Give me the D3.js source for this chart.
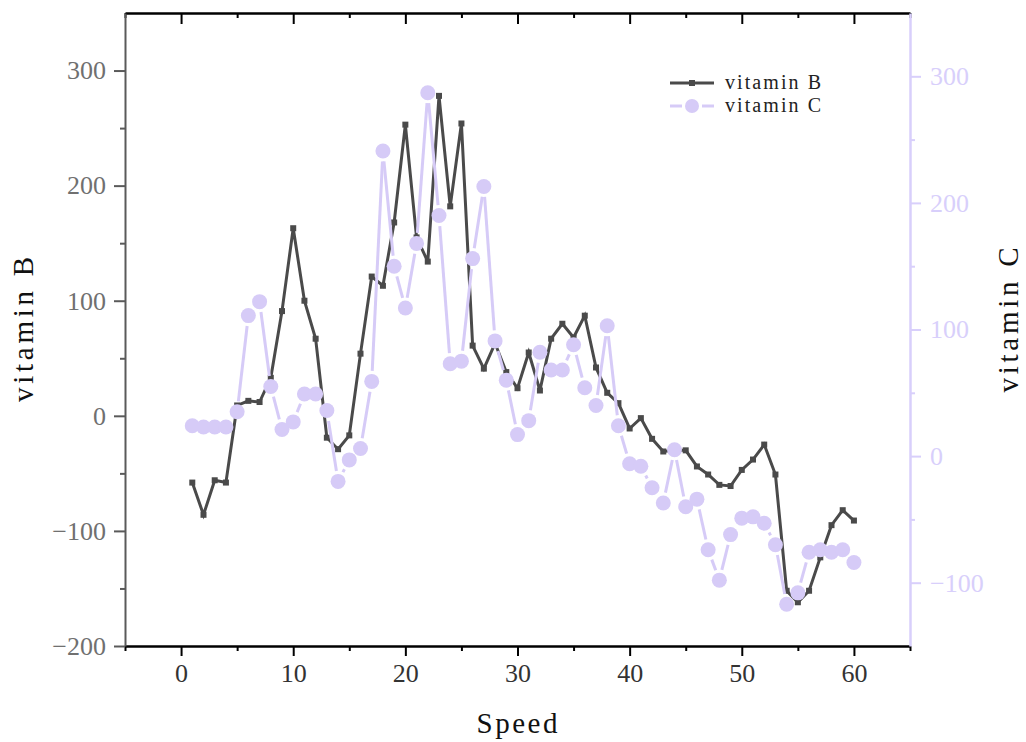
<!DOCTYPE html>
<html>
<head>
<meta charset="utf-8">
<script src="https://cdn.jsdelivr.net/npm/d3@7"></script>
<style>
  body { margin: 0; background: #fff; }
  svg { display: block; }
</style>
</head>
<body>
<div id="chart"></div>
<script>
// data
const speed = d3.range(1, 61);
const vitaminB = [
  -58, -86, -56, -58, 9, 13, 12, 33, 91, 163,
  100, 67, -19, -29, -17, 54, 121, 113, 168, 253,
  155, 134, 278, 182, 254, 61, 41, 63, 38, 24,
  55, 22, 67, 80, 68, 87, 42, 20, 11, -11,
  -2, -20, -31, -30, -30, -44, -51, -60, -61, -47,
  -38, -25, -51, -152, -162, -152, -123, -95, -82, -91
];
const vitaminC = [
  24, 23, 23, 23, 35, 111, 122, 55, 21, 27,
  49, 49, 36, -20, -3, 6, 59, 241, 150, 117,
  168, 287, 190, 73, 75, 156, 213, 91, 60, 17,
  28, 82, 68, 68, 88, 54, 40, 103, 24, -6,
  -8, -25, -37, 5, -40, -34, -74, -98, -62, -49,
  -48, -53, -70, -117, -108, -76, -74, -76, -74, -84
];
const xTicks = [0, 10, 20, 30, 40, 50, 60];
const leftTicks = [-200, -100, 0, 100, 200, 300];
const rightTicks = [-100, 0, 100, 200, 300];

const width = 1026, height = 742;
const plotLeft = 125, plotRight = 910, plotTop = 13, plotBottom = 646;

const colorB = "#4a4a4a";
const colorC = "#d6cbf7";
const axisC = "#d8cffb";

const svg = d3.select("#chart").append("svg")
  .attr("width", width)
  .attr("height", height);

const x = d3.scaleLinear().domain([-5, 65]).range([plotLeft, plotRight]);
const yB = d3.scaleLinear().domain([-200, 350]).range([plotBottom, plotTop]);
const yC = d3.scaleLinear().domain([-150, 350]).range([plotBottom, plotTop]);

const tickFont = "'Liberation Serif', 'DejaVu Serif', serif";
const titleFont = "'Liberation Serif', 'DejaVu Serif', serif";

function styleAxis(g, color, textColor, w) {
  g.select(".domain").attr("stroke", color).attr("stroke-width", w);
  g.selectAll(".tick line").attr("stroke", color).attr("stroke-width", 2);
  g.selectAll(".tick text")
    .attr("fill", textColor)
    .style("font-family", tickFont)
    .style("font-size", "26px");
}

const minus = d => d < 0 ? "\u2212" + Math.abs(d) : d;

// bottom axis
const xMinor = d3.range(-5, 66, 10);
svg.append("g")
  .attr("transform", `translate(0,${plotBottom})`)
  .call(d3.axisBottom(x).tickValues(xMinor).tickSize(5).tickFormat("").tickSizeOuter(0))
  .call(g => styleAxis(g, "#000", "#000", 2.5));
svg.append("g")
  .attr("transform", `translate(0,${plotBottom})`)
  .call(d3.axisBottom(x).tickValues(xTicks).tickSize(10).tickPadding(8).tickSizeOuter(0))
  .call(g => styleAxis(g, "#000", "#333", 2.5))
  .call(g => g.select(".domain").remove());

// top axis, ticks inside
svg.append("g")
  .attr("transform", `translate(0,${plotTop})`)
  .call(d3.axisTop(x).tickValues(xMinor).tickSize(-5).tickFormat("").tickSizeOuter(0))
  .call(g => styleAxis(g, "#000", "#000", 2.5));
svg.append("g")
  .attr("transform", `translate(0,${plotTop})`)
  .call(d3.axisTop(x).tickValues(xTicks).tickSize(-11).tickFormat("").tickSizeOuter(0))
  .call(g => styleAxis(g, "#000", "#000", 2.5))
  .call(g => g.select(".domain").remove());

// left axis
svg.append("g")
  .attr("transform", `translate(${plotLeft},0)`)
  .call(d3.axisLeft(yB).tickValues([-150, -50, 50, 150, 250]).tickSize(5).tickFormat("").tickSizeOuter(0))
  .call(g => styleAxis(g, "#5a5a5a", "#707070", 2));
svg.append("g")
  .attr("transform", `translate(${plotLeft},0)`)
  .call(d3.axisLeft(yB).tickValues(leftTicks).tickSize(11).tickPadding(8)
    .tickFormat(minus).tickSizeOuter(0))
  .call(g => styleAxis(g, "#5a5a5a", "#707070", 2))
  .call(g => g.select(".domain").remove());

// right axis
svg.append("g")
  .attr("transform", `translate(${plotRight},0)`)
  .call(d3.axisRight(yC).tickValues([-50, 50, 150, 250]).tickSize(5).tickFormat("").tickSizeOuter(0))
  .call(g => styleAxis(g, axisC, axisC, 2.5));
svg.append("g")
  .attr("transform", `translate(${plotRight},0)`)
  .call(d3.axisRight(yC).tickValues(rightTicks).tickSize(11).tickPadding(9)
    .tickFormat(minus).tickSizeOuter(0))
  .call(g => styleAxis(g, axisC, axisC, 2.5))
  .call(g => g.select(".domain").remove());

// axis titles, spread out like the monospaced font of the original
function title(g, label, len) {
  return g.append("text")
    .attr("text-anchor", "middle")
    .attr("textLength", len)
    .attr("lengthAdjust", "spacing")
    .style("font-family", titleFont)
    .style("font-size", "29px")
    .attr("fill", "#111")
    .text(label);
}

title(svg, "vitamin B", 145)
  .attr("transform", `translate(33,${(plotTop + plotBottom) / 2}) rotate(-90)`);

title(svg, "vitamin C", 145)
  .attr("transform", `translate(1018,320) rotate(-90)`);

title(svg, "Speed", 81)
  .attr("x", 517)
  .attr("y", 733);

const dataB = speed.map((s, i) => ({ s, v: vitaminB[i] }));
const dataC = speed.map((s, i) => ({ s, v: vitaminC[i] }));

// vitamin B line
svg.append("path")
  .datum(dataB)
  .attr("fill", "none")
  .attr("stroke", colorB)
  .attr("stroke-width", 3)
  .attr("d", d3.line().x(d => x(d.s)).y(d => yB(d.v)));

svg.append("g")
  .selectAll("rect")
  .data(dataB)
  .enter().append("rect")
  .attr("x", d => x(d.s) - 3)
  .attr("y", d => yB(d.v) - 3)
  .attr("width", 6)
  .attr("height", 6)
  .attr("fill", colorB);

// vitamin C line, segments stop short of the dots
const r = 7.5, gap = 3;
const segs = [];
for (let i = 0; i < dataC.length - 1; i++) {
  const x1 = x(dataC[i].s), y1 = yC(dataC[i].v);
  const x2 = x(dataC[i + 1].s), y2 = yC(dataC[i + 1].v);
  const len = Math.hypot(x2 - x1, y2 - y1);
  const cut = r + gap;
  if (len <= 2 * cut) continue;
  const ux = (x2 - x1) / len, uy = (y2 - y1) / len;
  segs.push([x1 + ux * cut, y1 + uy * cut, x2 - ux * cut, y2 - uy * cut]);
}
svg.append("g")
  .selectAll("line")
  .data(segs)
  .enter().append("line")
  .attr("x1", d => d[0]).attr("y1", d => d[1])
  .attr("x2", d => d[2]).attr("y2", d => d[3])
  .attr("stroke", colorC)
  .attr("stroke-width", 3);

svg.append("g")
  .selectAll("circle")
  .data(dataC)
  .enter().append("circle")
  .attr("cx", d => x(d.s))
  .attr("cy", d => yC(d.v))
  .attr("r", r)
  .attr("fill", colorC);

// legend
const legend = svg.append("g").attr("transform", "translate(670,83)");
legend.append("line")
  .attr("x1", 0).attr("x2", 44).attr("y1", 0).attr("y2", 0)
  .attr("stroke", colorB).attr("stroke-width", 3);
legend.append("rect")
  .attr("x", 19).attr("y", -3).attr("width", 6).attr("height", 6)
  .attr("fill", colorB);
legend.append("text")
  .attr("x", 55).attr("y", 6)
  .attr("textLength", 96)
  .attr("lengthAdjust", "spacing")
  .style("font-family", titleFont)
  .style("font-size", "20px")
  .attr("fill", "#222")
  .text("vitamin B");

legend.append("line")
  .attr("x1", 0).attr("x2", 12).attr("y1", 23).attr("y2", 23)
  .attr("stroke", colorC).attr("stroke-width", 3);
legend.append("line")
  .attr("x1", 32).attr("x2", 44).attr("y1", 23).attr("y2", 23)
  .attr("stroke", colorC).attr("stroke-width", 3);
legend.append("circle")
  .attr("cx", 22).attr("cy", 23).attr("r", 7)
  .attr("fill", colorC);
legend.append("text")
  .attr("x", 55).attr("y", 29)
  .attr("textLength", 96)
  .attr("lengthAdjust", "spacing")
  .style("font-family", titleFont)
  .style("font-size", "20px")
  .attr("fill", "#222")
  .text("vitamin C");
</script>
</body>
</html>
